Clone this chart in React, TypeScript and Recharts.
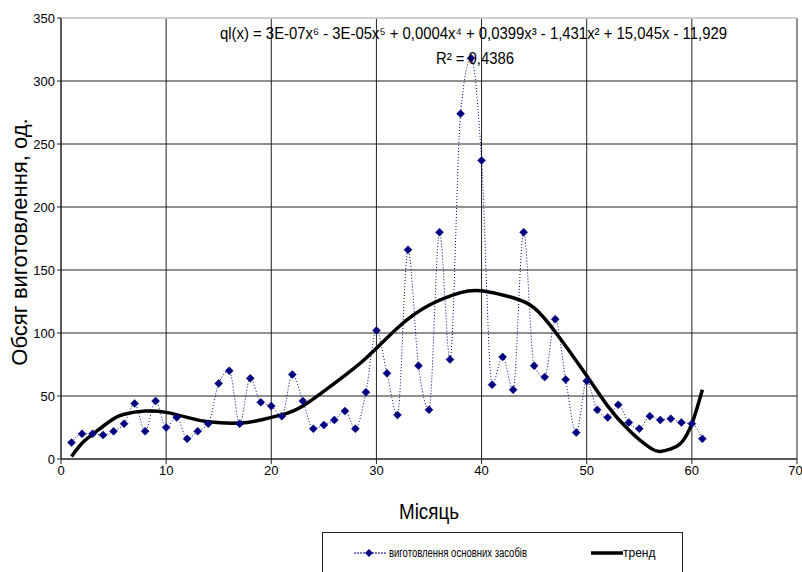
import { CartesianGrid, ComposedChart, Legend, Line, ReferenceLine, XAxis, YAxis } from 'recharts';

// monthly output volume, months 1..61
const months = Array.from({ length: 61 }, (_, i) => i + 1);
const output = [
  13, 20, 20, 19, 22, 28, 44, 22, 46, 25,
  33, 16, 22, 28, 60, 70, 28, 64, 45, 42,
  34, 67, 46, 24, 27, 31, 38, 24, 53, 102,
  68, 35, 166, 74, 39, 180, 79, 274, 318, 237,
  59, 81, 55, 180, 74, 65, 111, 63, 21, 62,
  39, 33, 43, 29, 24, 34, 31, 32, 29, 28,
  16,
];

// polynomial trend line at selected months
const trendMonths = [1, 2, 3, 4, 5, 6, 8, 10, 12, 14, 17, 19, 21, 23, 26, 29, 32, 35, 38, 40, 43, 45, 47, 50, 52, 54, 56, 57, 58, 59, 60, 61];
const trendValues = [2, 12.5, 19.5, 26, 32, 35.5, 38, 37, 33, 29.5, 28.5, 31, 35, 42, 60, 80, 104, 122, 132, 133.5, 128, 120, 101, 66, 42, 23, 9, 6, 8, 13, 28, 55];

const xTicks = [0, 10, 20, 30, 40, 50, 60, 70];
const yTicks = [0, 50, 100, 150, 200, 250, 300, 350];

const seriesName = 'виготовлення основних засобів';
const trendName = 'тренд';
const equation = 'ql(x) = 3E-07x⁶ - 3E-05x⁵ + 0,0004x⁴ + 0,0399x³ - 1,431x² + 15,045x - 11,929';
const rSquared = 'R² = 0,4386';

const W = 802;
const H = 572;
const FONT = "'Liberation Sans Narrow', 'Liberation Sans', Arial, sans-serif";
const NAVY = '#000080';

const data = months.map((m, i) => ({ m, v: output[i] }));
const trend = trendMonths.map((m, i) => ({ m, t: trendValues[i] }));

function Diamond(props: any) {
  const { cx, cy, index } = props;
  if (cx == null || cy == null) return <g key={`d-${index}`} />;
  const r = 4;
  return (
    <path
      key={`d-${index}`}
      d={`M${cx},${cy - r}L${cx + r},${cy}L${cx},${cy + r}L${cx - r},${cy}Z`}
      fill={NAVY}
      stroke={NAVY}
      strokeWidth={0.5}
    />
  );
}

function LegendBox() {
  return (
    <div
      style={{
        width: 359,
        height: 48,
        border: '1px solid #222',
        background: '#fff',
        position: 'relative',
      }}
    >
      <svg width={359} height={48} style={{ position: 'absolute', left: 0, top: 0 }}>
        <line x1={31} y1={20} x2={63} y2={20} stroke={NAVY} strokeWidth={1} strokeDasharray="2 1" />
        <path d="M46,16L50,20L46,24L42,20Z" fill={NAVY} />
        <text x={66} y={24} fontSize={12} fontFamily={FONT} fill="#000" textLength={138} lengthAdjust="spacingAndGlyphs">
          {seriesName}
        </text>
        <line x1={268} y1={20} x2={300} y2={20} stroke="#000" strokeWidth={3.5} />
        <text x={300} y={24} fontSize={12} fontFamily={FONT} fill="#000">
          {trendName}
        </text>
      </svg>
    </div>
  );
}

function Overlay() {
  return (
    <svg
      width={W}
      height={H}
      style={{ position: 'absolute', left: 0, top: 0, pointerEvents: 'none' }}
    >
      <text x={220} y={39} fontSize={16} fontFamily={FONT} textLength={507} lengthAdjust="spacingAndGlyphs">
        {equation}
      </text>
      <text x={436} y={64} fontSize={16} fontFamily={FONT} textLength={78} lengthAdjust="spacingAndGlyphs">
        {rSquared}
      </text>
      <text x={429} y={519} fontSize={22} fontFamily={FONT} textAnchor="middle" textLength={60} lengthAdjust="spacingAndGlyphs">
        Місяць
      </text>
      <text
        x={0}
        y={0}
        fontSize={22}
        fontFamily={FONT}
        textAnchor="middle"
        transform="translate(27,242) rotate(-90)"
      >
        Обсяг виготовлення, од.
      </text>
    </svg>
  );
}

export default function App() {
  return (
    <div style={{ position: 'absolute', left: 0, top: 0, width: W, height: H, background: '#fff' }}>
      <ComposedChart width={W} height={H} margin={{ top: 18, right: 5, bottom: 33, left: 21 }}>
        <CartesianGrid stroke="#222" strokeWidth={1} />
        <XAxis
          dataKey="m"
          type="number"
          domain={[0, 70]}
          ticks={xTicks}
          height={30}
          allowDuplicatedCategory={false}
          stroke="#222"
          tickSize={5}
          tick={{ fill: '#000', fontSize: 13, fontFamily: FONT }}
        />
        <YAxis
          type="number"
          domain={[0, 350]}
          ticks={yTicks}
          width={40}
          stroke="#222"
          tickSize={4}
          tick={{ fill: '#000', fontSize: 13, fontFamily: FONT }}
        />
        <ReferenceLine y={350} stroke="#e4e4e4" strokeWidth={1.5} />
        <Legend
          content={() => <LegendBox />}
          wrapperStyle={{ position: 'absolute', left: 322, top: 532, width: 361, height: 50 }}
        />
        <Line
          data={data}
          dataKey="v"
          name={seriesName}
          type="monotone"
          stroke={NAVY}
          strokeWidth={1}
          strokeDasharray="1 2"
          dot={Diamond}
          isAnimationActive={false}
        />
        <Line
          data={trend}
          dataKey="t"
          name={trendName}
          type="natural"
          stroke="#000"
          strokeWidth={3.5}
          dot={false}
          isAnimationActive={false}
        />
      </ComposedChart>
      <Overlay />
    </div>
  );
}
